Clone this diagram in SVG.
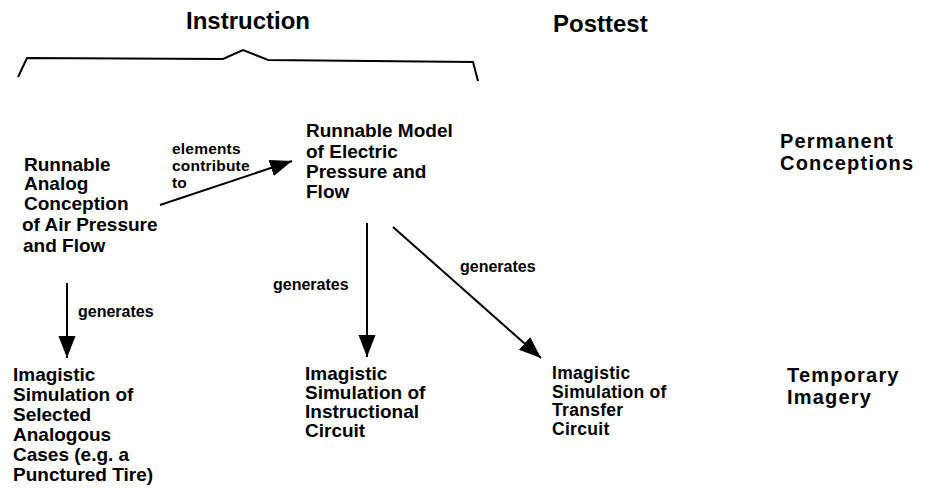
<svg xmlns="http://www.w3.org/2000/svg" width="932" height="491" viewBox="0 0 932 491">
<defs>
<style>
text { font-family: "Liberation Sans", Arial, sans-serif; font-weight: bold; fill: #000; }
.node { font-size: 19px; }
.tight { font-size: 17.5px; letter-spacing: 0.3px; }
.lbl { font-size: 16px; }
.lbl2 { font-size: 15.5px; letter-spacing: 0.2px; }
.head { font-size: 24px; }
.side { font-size: 20px; letter-spacing: 1.2px; }
.conn line { stroke: #000; stroke-width: 2; marker-end: url(#ah); }
</style>
<marker id="ah" markerUnits="userSpaceOnUse" markerWidth="24" markerHeight="18" refX="22" refY="8.5" orient="auto">
<path d="M0,0 L22,8.5 L0,17 z" fill="#000"/>
</marker>
</defs>
<rect width="932" height="491" fill="#fff"/>

<g id="heading-instruction">
<text class="head" x="186" y="29">Instruction</text>
<path d="M18,77 L27,58 L223,59 L243,50 L268,60 L473,62 L478,81" fill="none" stroke="#000" stroke-width="2"/>
</g>
<g id="heading-posttest"><text class="head" x="553" y="32">Posttest</text></g>

<g id="row-permanent"><text class="side"><tspan x="780" y="148">Permanent</tspan><tspan x="780" y="170">Conceptions</tspan></text></g>
<g id="row-temporary"><text class="side"><tspan x="787" y="382">Temporary</tspan><tspan x="787" y="404">Imagery</tspan></text></g>

<g id="node-analog">
<text class="node"><tspan x="24" y="171">Runnable</tspan><tspan x="24" y="190">Analog</tspan><tspan x="24" y="210">Conception</tspan><tspan x="22" y="231">of Air Pressure</tspan><tspan x="23" y="252">and Flow</tspan></text>
</g>
<g id="node-model">
<text class="node"><tspan x="306" y="137">Runnable Model</tspan><tspan x="306" y="158">of Electric</tspan><tspan x="306" y="178">Pressure and</tspan><tspan x="306" y="198">Flow</tspan></text>
</g>
<g id="node-sim-analog">
<text class="node"><tspan x="13" y="381">Imagistic</tspan><tspan x="13" y="401">Simulation of</tspan><tspan x="13" y="421">Selected</tspan><tspan x="13" y="441">Analogous</tspan><tspan x="13" y="461">Cases (e.g. a</tspan><tspan x="13" y="481">Punctured Tire)</tspan></text>
</g>
<g id="node-sim-instr">
<text class="node"><tspan x="305" y="380">Imagistic</tspan><tspan x="305" y="399">Simulation of</tspan><tspan x="305" y="418">Instructional</tspan><tspan x="305" y="437">Circuit</tspan></text>
</g>
<g id="node-sim-transfer">
<text class="tight"><tspan x="552" y="379">Imagistic</tspan><tspan x="552" y="397.5">Simulation of</tspan><tspan x="552" y="416">Transfer</tspan><tspan x="552" y="434.5">Circuit</tspan></text>
</g>

<g id="connectors" class="conn">
<line x1="160" y1="205" x2="292" y2="161"/>
<line x1="67" y1="283" x2="67" y2="358"/>
<line x1="367" y1="223" x2="367" y2="357"/>
<line x1="393" y1="227" x2="541" y2="358"/>
<text class="lbl2"><tspan x="172" y="154">elements</tspan><tspan x="172" y="171">contribute</tspan><tspan x="172" y="188">to</tspan></text>
<text class="lbl" x="78" y="317">generates</text>
<text class="lbl" x="273" y="290">generates</text>
<text class="lbl" x="460" y="272">generates</text>
</g>
</svg>
